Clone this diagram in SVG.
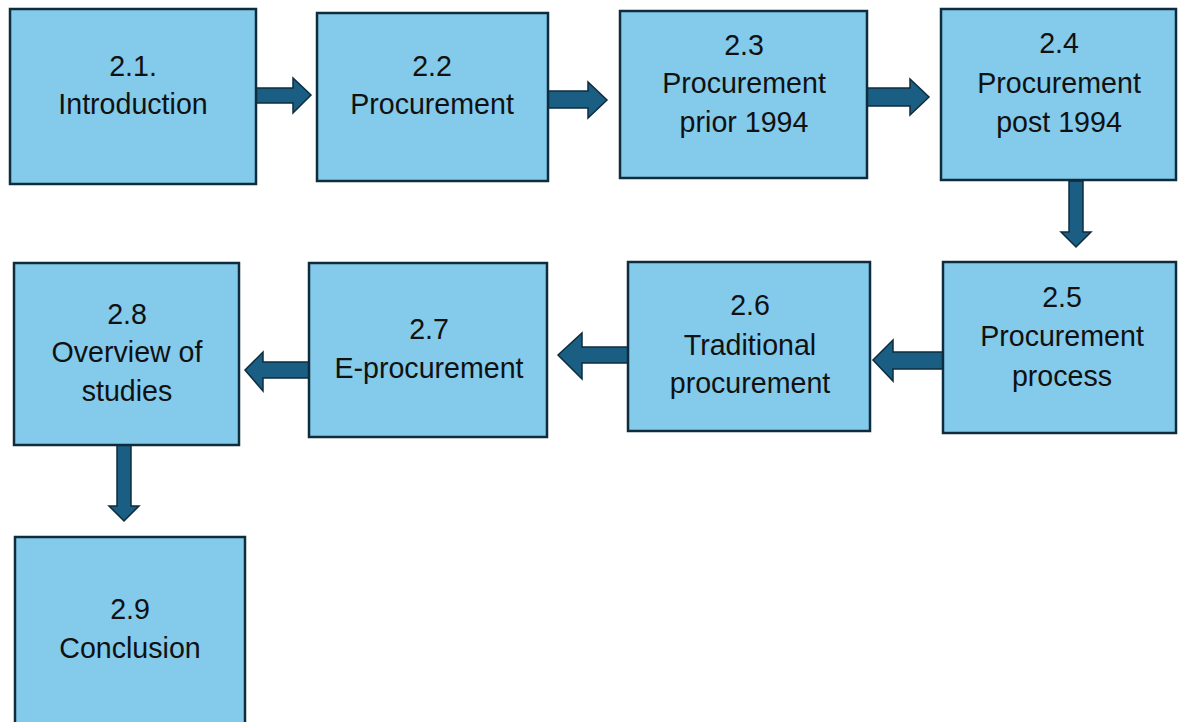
<svg xmlns="http://www.w3.org/2000/svg" width="1178" height="722" viewBox="0 0 1178 722">
  <style>
    .box { fill: #83caeb; stroke: #0f2c3d; stroke-width: 2.5; }
    .lbl { font-family: "Liberation Sans", Arial, sans-serif; font-size: 28.6px; fill: #111111; text-anchor: middle; }
    .arrow { fill: #1a5e84; stroke: #0f2c3d; stroke-width: 1.5; stroke-linejoin: miter; }
  </style>
  <rect width="1178" height="722" fill="#ffffff"/>

  <g id="connectors">
    <!-- 2.1 -> 2.2 -->
    <polygon class="arrow" points="256,88 293,88 293,78 311,95 293,113 293,103 256,103"/>
    <!-- 2.2 -> 2.3 -->
    <polygon class="arrow" points="548,91 588,91 588,82 607,100 588,118 588,108 548,108"/>
    <!-- 2.3 -> 2.4 -->
    <polygon class="arrow" points="866,88 910,88 910,79 929,97 910,115 910,106 866,106"/>
    <!-- 2.4 -> 2.5 -->
    <polygon class="arrow" points="1069,181 1083,181 1083,232 1091,232 1076,247 1061,232 1069,232"/>
    <!-- 2.5 -> 2.6 -->
    <polygon class="arrow" points="943,352 893,352 893,340 873,360 893,381 893,369 943,369"/>
    <!-- 2.6 -> 2.7 -->
    <polygon class="arrow" points="629,347 582,347 582,333 558,355 582,379 582,363 629,363"/>
    <!-- 2.7 -> 2.8 -->
    <polygon class="arrow" points="309,362 263,362 263,352 245,370 263,391 263,378 309,378"/>
    <!-- 2.8 -> 2.9 -->
    <polygon class="arrow" points="117,445 131,445 131,506 139,506 124,521 109,506 117,506"/>
  </g>

  <g id="node-2-1">
    <rect class="box" x="10" y="9" width="246" height="175"/>
    <text class="lbl" x="133" y="76">2.1.</text>
    <text class="lbl" x="133" y="114">Introduction</text>
  </g>

  <g id="node-2-2">
    <rect class="box" x="317" y="13" width="231" height="168"/>
    <text class="lbl" x="432" y="76">2.2</text>
    <text class="lbl" x="432" y="114">Procurement</text>
  </g>

  <g id="node-2-3">
    <rect class="box" x="620" y="11" width="247" height="167"/>
    <text class="lbl" x="744" y="55">2.3</text>
    <text class="lbl" x="744" y="93">Procurement</text>
    <text class="lbl" x="744" y="132">prior 1994</text>
  </g>

  <g id="node-2-4">
    <rect class="box" x="941" y="9" width="235" height="171"/>
    <text class="lbl" x="1059" y="53">2.4</text>
    <text class="lbl" x="1059" y="93">Procurement</text>
    <text class="lbl" x="1059" y="132">post 1994</text>
  </g>

  <g id="node-2-5">
    <rect class="box" x="943" y="262" width="233" height="171"/>
    <text class="lbl" x="1062" y="307">2.5</text>
    <text class="lbl" x="1062" y="346">Procurement</text>
    <text class="lbl" x="1062" y="386">process</text>
  </g>

  <g id="node-2-6">
    <rect class="box" x="628" y="262" width="242" height="169"/>
    <text class="lbl" x="750" y="315">2.6</text>
    <text class="lbl" x="750" y="355">Traditional</text>
    <text class="lbl" x="750" y="393">procurement</text>
  </g>

  <g id="node-2-7">
    <rect class="box" x="309" y="263" width="238" height="174"/>
    <text class="lbl" x="429" y="339">2.7</text>
    <text class="lbl" x="429" y="378">E-procurement</text>
  </g>

  <g id="node-2-8">
    <rect class="box" x="14" y="263" width="225" height="182"/>
    <text class="lbl" x="127" y="324">2.8</text>
    <text class="lbl" x="127" y="362">Overview of</text>
    <text class="lbl" x="127" y="401">studies</text>
  </g>

  <g id="node-2-9">
    <rect class="box" x="15" y="537" width="230" height="200"/>
    <text class="lbl" x="130" y="619">2.9</text>
    <text class="lbl" x="130" y="658">Conclusion</text>
  </g>
</svg>
